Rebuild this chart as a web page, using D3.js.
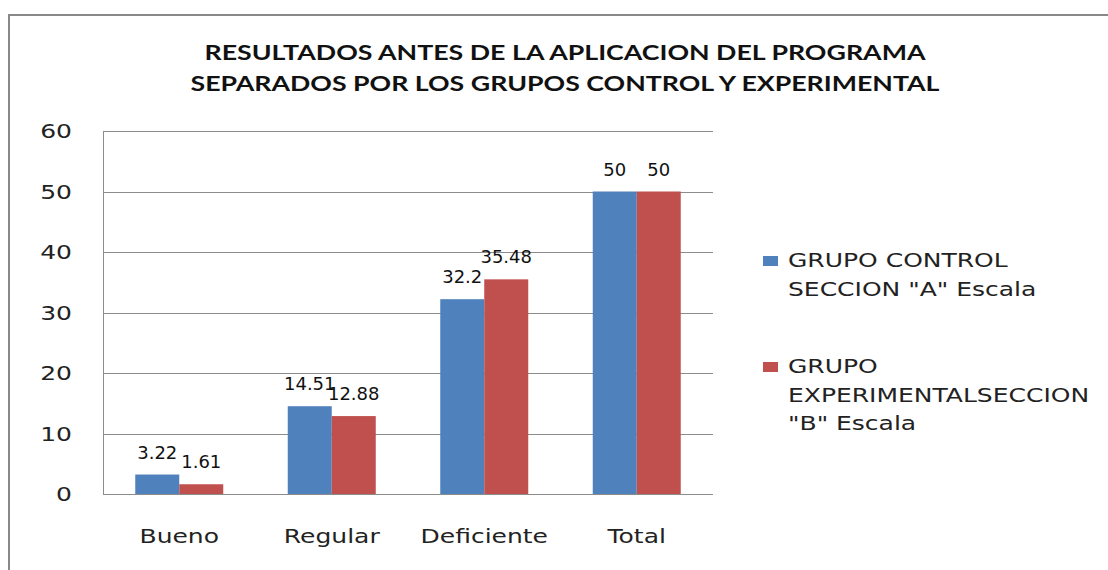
<!DOCTYPE html>
<html>
<head>
<meta charset="utf-8">
<script src="https://cdn.jsdelivr.net/npm/d3@7"></script>
<style>
body { margin: 0; background: #fff; }
.lbl { font-family: "DejaVu Sans", Verdana, sans-serif; font-size: 20px; fill: #222; }
.val { font-family: "DejaVu Sans", Verdana, sans-serif; font-size: 18px; fill: #111; }
.title { font-family: Lato, "Liberation Sans", sans-serif; font-size: 21px; font-weight: bold; fill: #111; }
</style>
</head>
<body>
<div id="chart"></div>
<script>
// data
var categories = ["Bueno", "Regular", "Deficiente", "Total"];
var seriesA = [3.22, 14.51, 32.2, 50];
var seriesB = [1.61, 12.88, 35.48, 50];
var seriesNames = ['GRUPO CONTROL SECCION "A" Escala', 'GRUPO EXPERIMENTALSECCION "B" Escala'];
var legendLines = [['GRUPO CONTROL', 'SECCION "A" Escala'], ['GRUPO', 'EXPERIMENTALSECCION', '"B" Escala']];
var yTicks = [0, 10, 20, 30, 40, 50, 60];
var titleLines = ["RESULTADOS ANTES DE LA APLICACION DEL PROGRAMA", "SEPARADOS POR LOS GRUPOS CONTROL Y EXPERIMENTAL"];

var colors = ["#4F81BD", "#C0504D"];
var W = 1108, H = 570;
var stretch = 1.25;

var svg = d3.select("#chart").append("svg")
	.attr("width", W).attr("height", H);

// outer frame (only top and left visible)
svg.append("rect")
	.attr("x", 9).attr("y", 15).attr("width", 1200).attr("height", 700)
	.attr("fill", "none").attr("stroke", "#888").attr("stroke-width", 2);

// title
var titleW = [721, 749];
svg.selectAll("text.title").data(titleLines).enter().append("text")
	.attr("class", "title")
	.attr("x", 565).attr("y", function(d, i) { return 60 + i * 31; })
	.attr("text-anchor", "middle")
	.attr("textLength", function(d, i) { return titleW[i]; })
	.attr("lengthAdjust", "spacingAndGlyphs")
	.text(function(d) { return d; });

// scales
var x = d3.scaleBand().domain(categories).range([103, 713]).padding(0);
var xs = d3.scaleBand().domain([0, 1]).range([0, x.bandwidth()]).paddingInner(0).paddingOuter(0.733);
var y = d3.scaleLinear().domain([0, 60]).range([494, 131]);

// gridlines
svg.append("g").selectAll("line").data(yTicks.slice(1)).enter().append("line")
	.attr("x1", 103).attr("x2", 713)
	.attr("y1", function(d) { return Math.round(y(d)) + 0.5; })
	.attr("y2", function(d) { return Math.round(y(d)) + 0.5; })
	.attr("stroke", "#8c8c8c").attr("stroke-width", 1);

// y tick labels
svg.append("g").selectAll("text").data(yTicks).enter().append("text")
	.attr("class", "lbl")
	.attr("text-anchor", "end")
	.attr("dy", "0.36em")
	.attr("transform", function(d) { return "translate(72," + y(d) + ") scale(" + stretch + ",1)"; })
	.text(function(d) { return d; });

// bars
var rows = categories.map(function(c, i) { return { cat: c, vals: [seriesA[i], seriesB[i]] }; });
var grp = svg.append("g").selectAll("g").data(rows).enter().append("g")
	.attr("transform", function(d) { return "translate(" + x(d.cat) + ",0)"; });

grp.selectAll("rect").data(function(d) { return d.vals; }).enter().append("rect")
	.attr("x", function(d, i) { return xs(i); })
	.attr("width", xs.bandwidth())
	.attr("y", function(d) { return y(d); })
	.attr("height", function(d) { return y(0) - y(d); })
	.attr("fill", function(d, i) { return colors[i]; });

grp.selectAll("text").data(function(d) { return d.vals; }).enter().append("text")
	.attr("class", "val")
	.attr("text-anchor", "middle")
	.attr("x", function(d, i) { return xs(i) + xs.bandwidth() / 2; })
	.attr("y", function(d) { return y(d) - 16; })
	.text(function(d) { return d; });

// axes lines
svg.append("line").attr("x1", 103.5).attr("x2", 103.5).attr("y1", 131).attr("y2", 495)
	.attr("stroke", "#8c8c8c");
svg.append("line").attr("x1", 103).attr("x2", 713).attr("y1", 494.5).attr("y2", 494.5)
	.attr("stroke", "#8c8c8c");

// category labels
svg.append("g").selectAll("text").data(categories).enter().append("text")
	.attr("class", "lbl")
	.attr("text-anchor", "middle")
	.attr("transform", function(d) { return "translate(" + (x(d) + x.bandwidth() / 2) + ",543) scale(" + stretch + ",1)"; })
	.text(function(d) { return d; });

// legend
var legendTop = [267, 373];
var leg = svg.append("g").selectAll("g").data(seriesNames).enter().append("g");
leg.append("rect")
	.attr("x", 763).attr("y", function(d, i) { return legendTop[i] - 11; })
	.attr("width", 15).attr("height", 10)
	.attr("fill", function(d, i) { return colors[i]; });
leg.each(function(d, i) {
	d3.select(this).selectAll("text").data(legendLines[i]).enter().append("text")
		.attr("class", "lbl")
		.attr("transform", function(t, j) { return "translate(788," + (legendTop[i] + j * 28.5) + ") scale(" + stretch + ",1)"; })
		.text(function(t) { return t; });
});
</script>
</body>
</html>
